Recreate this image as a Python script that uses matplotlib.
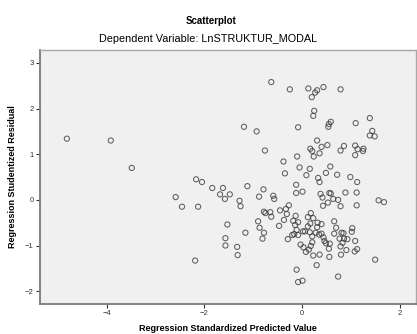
import matplotlib
matplotlib.use("Agg")
import matplotlib.pyplot as plt

plt.rcParams['font.family'] = ['Liberation Sans', 'DejaVu Sans']

# --- Data ---
predicted = [
    -4.82, -3.92, -3.49, -0.63, -1.19, -0.93, -0.76, -2.17, -2.05, -1.84,
    -1.62, -1.12, -0.79, -0.59, -0.57, -2.59, -1.68, -1.48, -1.58, -1.28,
    -1.26, -0.88, -2.46, -2.13, -0.78, -0.75, -0.65, -0.63, -0.45, -0.90,
    -1.53, -0.87, -0.47, -1.16, -0.78, -0.81, -1.57, -1.57, -1.33, -1.32,
    -2.19, -0.25, 0.13, 0.31, 0.27, 0.44, 0.20, 0.79, 0.25, 0.23,
    -0.08, 0.59, 0.55, 0.54, 1.10, 1.39, 1.44, 1.39, 1.49, 0.31,
    0.17, 0.21, 0.40, 0.52, 0.24, 0.36, -0.10, 0.79, 0.86, 1.09,
    1.14, 1.26, 1.25, 1.09, -0.38, -0.05, 0.16, 0.58, -0.35, 0.09,
    0.49, 0.72, 0.33, 0.36, 0.99, 1.13, -0.12, -0.12, 0.01, 0.38,
    0.56, 0.59, 0.89, 1.12, 0.42, 0.64, 0.74, 1.57, 1.68, 0.53,
    0.43, 0.79, 1.12, -0.27, -0.33, -0.31, -0.37, -0.13, -0.18, -0.08,
    0.12, 0.18, 0.23, 0.17, 0.12, 0.32, 0.40, 0.31, -0.14, -0.11,
    -0.08, 0.06, 0.02, 0.16, 0.21, 0.28, 0.35, 0.40, -0.16, -0.20,
    0.66, 0.70, 0.66, 0.85, 0.81, 0.77, 0.86, 0.83, 0.79, 0.44,
    0.49, 0.46, 0.57, 0.55, -0.29, -0.03, 0.03, 0.08, 0.21, 0.18,
    0.14, 0.23, 0.36, 0.56, 0.80, 0.30, 1.03, 1.02, 1.09, 1.13,
    1.08, 0.91, -0.11, -0.08, 0.01, 0.74, 1.50, 0.93,
]
residual = [
    1.34, 1.30, 0.70, 2.58, 1.60, 1.50, 1.08, 0.45, 0.39, 0.26,
    0.26, 0.30, 0.23, 0.09, 0.02, 0.06, 0.12, 0.12, 0.02, -0.02,
    -0.14, 0.07, -0.15, -0.15, -0.26, -0.29, -0.27, -0.37, -0.23, -0.47,
    -0.54, -0.61, -0.57, -0.72, -0.72, -0.85, -0.84, -1.00, -1.03, -1.21,
    -1.33, 2.42, 2.44, 2.40, 2.35, 2.47, 2.25, 2.42, 1.95, 1.84,
    1.59, 1.71, 1.66, 1.60, 1.68, 1.79, 1.51, 1.41, 1.39, 1.30,
    1.12, 1.07, 1.16, 1.20, 0.95, 1.02, 0.95, 1.08, 1.18, 1.19,
    1.11, 1.12, 1.07, 0.98, 0.84, 0.71, 0.68, 0.73, 0.58, 0.54,
    0.59, 0.55, 0.48, 0.39, 0.50, 0.39, 0.33, 0.15, 0.18, 0.13,
    0.15, 0.14, 0.16, 0.16, 0.05, 0.02, 0.00, -0.01, -0.05, -0.06,
    -0.13, -0.14, -0.12, -0.12, -0.20, -0.31, -0.44, -0.35, -0.46, -0.49,
    -0.38, -0.29, -0.40, -0.52, -0.58, -0.50, -0.53, -0.60, -0.55, -0.66,
    -0.77, -0.69, -0.69, -0.71, -0.80, -0.72, -0.76, -0.74, -0.75, -0.77,
    -0.47, -0.61, -0.74, -0.73, -0.72, -0.85, -0.85, -0.94, -1.02, -0.82,
    -0.95, -0.90, -0.96, -1.07, -0.86, -0.98, -1.04, -1.14, -0.93, -1.01,
    -1.09, -1.22, -1.20, -1.25, -1.20, -1.43, -0.62, -0.70, -0.90, -1.08,
    -1.13, -1.10, -1.53, -1.80, -1.77, -1.68, -1.31, -0.86,
]

xticks = [-4, -2, 0, 2]
yticks = [-2, -1, 0, 1, 2, 3]

fig = plt.figure(figsize=(4.17, 3.34), dpi=100)
ax = fig.add_axes([0.096, 0.090, 0.902, 0.760])
ax.set_facecolor('#f0f0f0')

ax.scatter(predicted, residual, s=14, facecolors='none',
           edgecolors='#3a3a3a', linewidths=0.75, alpha=0.8)

ax.set_xlim(-5.37, 2.34)
ax.set_ylim(-2.28, 3.28)
ax.set_xticks(xticks)
ax.set_yticks(yticks)
ax.tick_params(length=3, width=0.8, pad=1.5, labelsize=5.5,
               colors='#333333')

for side in ['left', 'bottom']:
    ax.spines[side].set_color('#7a7a7a')
    ax.spines[side].set_linewidth(1.3)
for side in ['top', 'right']:
    ax.spines[side].set_color('#a8a8a8')
    ax.spines[side].set_linewidth(1.0)

ax.set_xlabel('Regression Standardized Predicted Value', fontsize=6.5,
              fontweight='bold', labelpad=5)
ax.set_ylabel('Regression Studentized Residual', fontsize=6.5,
              fontweight='bold', labelpad=6)

fig.text(0.505, 0.938, 'Scatterplot', ha='center', va='center',
         fontsize=7, fontweight='bold')
fig.text(0.5, 0.882, 'Dependent Variable: LnSTRUKTUR_MODAL', ha='center',
         va='center', fontsize=7.8)

fig.savefig('out.png', dpi=100)
